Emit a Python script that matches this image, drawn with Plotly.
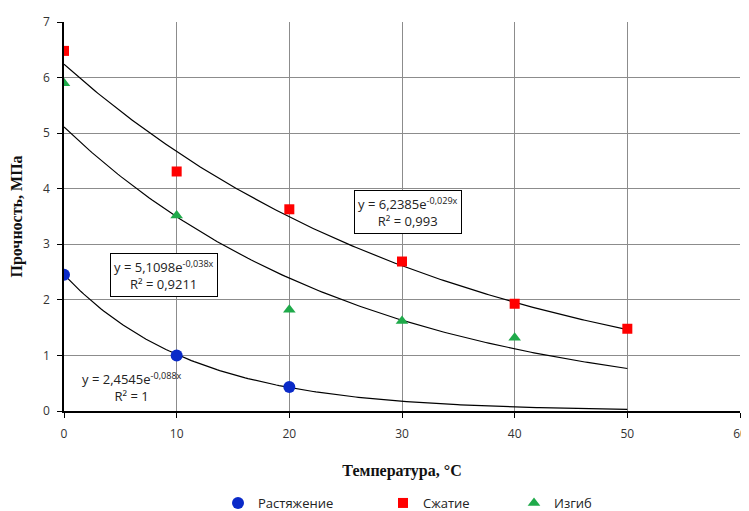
import numpy as np
import plotly.graph_objects as go

# Data
temp_tension = [0, 10, 20]
tension = [2.45, 1.0, 0.43]
temp_compr = [0, 10, 20, 30, 40, 50]
compression = [6.48, 4.31, 3.63, 2.69, 1.93, 1.48]
temp_bend = [0, 10, 20, 30, 40]
bending = [5.9, 3.52, 1.82, 1.62, 1.32]

# trend coefficients (a, b) for y = a*exp(b*x)
trend_tension = (2.4545, -0.088)
trend_compr = (6.2385, -0.029)
trend_bend = (5.1098, -0.038)
trend_range = (0, 50)

series_names = ["Растяжение", "Сжатие", "Изгиб"]
x_ticks = [0, 10, 20, 30, 40, 50, 60]
y_ticks = [0, 1, 2, 3, 4, 5, 6, 7]

sans = "Open Sans, Liberation Sans, sans-serif"
tick_font = dict(family=sans, size=12, color="#333")
serif_bold = dict(family="Liberation Serif, Times New Roman, serif", size=16, color="#111")

W, H = 741, 503

fig = go.Figure()

xs = np.linspace(trend_range[0], trend_range[1], 200)
for (a, b) in [trend_compr, trend_bend, trend_tension]:
    fig.add_trace(go.Scatter(x=xs, y=a * np.exp(b * xs), mode="lines",
                             line=dict(color="black", width=1.2),
                             showlegend=False, hoverinfo="skip"))

fig.add_trace(go.Scatter(x=temp_tension, y=tension, mode="markers", name=series_names[0],
                         marker=dict(symbol="circle", size=12, color="#0a2ac8"), legend="legend"))
fig.add_trace(go.Scatter(x=temp_compr, y=compression, mode="markers", name=series_names[1],
                         marker=dict(symbol="square", size=10, color="#ff0000"), legend="legend2"))
fig.add_trace(go.Scatter(x=temp_bend, y=bending, mode="markers", name=series_names[2],
                         marker=dict(symbol="triangle-up", size=11, color="#1faa4a"), legend="legend3"))

ann_font = dict(family=sans, size=13, color="#222")
fig.add_annotation(x=30.5, y=3.59, xref="x", yref="y",
                   text="y = 6,2385e<sup>-0,029x</sup><br>R² = 0,993",
                   showarrow=False, font=ann_font, bordercolor="black", borderwidth=1,
                   borderpad=3, bgcolor="white", align="center")
fig.add_annotation(x=8.9, y=2.44, xref="x", yref="y",
                   text="y = 5,1098e<sup>-0,038x</sup><br>R² = 0,9211",
                   showarrow=False, font=ann_font, bordercolor="black", borderwidth=1,
                   borderpad=3, bgcolor="white", align="center")
fig.add_annotation(x=6.0, y=0.43, xref="x", yref="y",
                   text="y = 2,4545e<sup>-0,088x</sup><br>R² = 1",
                   showarrow=False, font=ann_font, align="center")

fig.update_xaxes(range=[0, 60], tickvals=x_ticks, showgrid=True, gridcolor="#8c8c8c",
                 gridwidth=1, showline=True, linecolor="black", linewidth=1.5,
                 ticks="outside", ticklen=5, tickcolor="black", tickfont=tick_font,
                 zeroline=False, automargin=False, ticklabelstandoff=6,
                 ticklabeloverflow="allow",
                 title=dict(text="<b>Температура, °C</b>", font=serif_bold, standoff=24))
fig.update_yaxes(range=[0, 7], tickvals=y_ticks, showgrid=True, gridcolor="#8c8c8c",
                 gridwidth=1, showline=True, linecolor="black", linewidth=1.5,
                 ticks="outside", ticklen=5, tickcolor="black", tickfont=tick_font,
                 zeroline=False, automargin=False, ticklabelstandoff=5,
                 title=dict(text="<b>Прочность, МПа</b>", font=serif_bold, standoff=17))

leg_font = dict(family=sans, size=13, color="#222")
def leg(xpx):
    return dict(orientation="h", x=xpx / W, xref="container", xanchor="left",
                y=(H - 495) / H, yref="container", yanchor="middle",
                font=leg_font, bgcolor="rgba(0,0,0,0)", itemwidth=30)

fig.update_layout(width=W, height=H, plot_bgcolor="white", paper_bgcolor="white",
                  margin=dict(l=56, r=9, t=14, b=100, autoexpand=False),
                  legend=leg(210), legend2=leg(375), legend3=leg(506),
                  showlegend=True)

fig.write_html("out.html")
